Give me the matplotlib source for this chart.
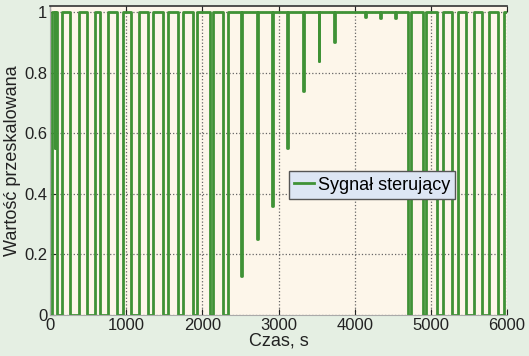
import matplotlib.pyplot as plt
import numpy as np

plt.rcParams['font.family'] = ['Liberation Sans', 'DejaVu Sans']

# chwile przełączeń sygnału (s), sygnał startuje od 0 i zmienia stan na każdej krawędzi
krawedzie = [22, 92, 155, 263, 382, 487, 592, 658, 763, 882, 961, 1066, 1171,
             1289, 1355, 1487, 1553, 1684, 1750, 1882, 1934, 2105, 2145, 2276,
             2342, 4697, 4737, 4895, 4934, 5079, 5158, 5276, 5355, 5461, 5566,
             5671, 5763, 5882, 5961]
# krótkie zapady sygnału w stanie wysokim: (czas, wartość minimalna)
zapady_t = [60, 2509, 2719, 2917, 3118, 3322, 3526, 3730, 4132, 4329, 4535]
zapady_v = [0.55, 0.13, 0.25, 0.36, 0.55, 0.74, 0.84, 0.90, 0.985, 0.98, 0.98]
t_koniec = 6000

punkty = [(0, 0)]
stan = 0
for e in krawedzie:
    punkty.append((e, stan))
    punkty.append((e, 1 - stan))
    stan = 1 - stan
punkty.append((t_koniec, stan))
for tz, vz in zip(zapady_t, zapady_v):
    punkty += [(tz, 1), (tz, vz), (tz + 12, vz), (tz + 12, 1)]
punkty = sorted(punkty, key=lambda p: p[0])
t = np.array([p[0] for p in punkty])
y = np.array([p[1] for p in punkty])

fig = plt.figure(figsize=(5.29, 3.56), dpi=100, facecolor='#e5efe3')
ax = fig.add_axes([50/529, 1-315/356, 457/529, 309/356])
ax.set_facecolor('#fdf6ea')

ax.plot(t, y, color='#3f9236', lw=2, label='Sygnał sterujący')

ax.set_xlim(0, 6000)
ax.set_ylim(0, 1.02)
ax.set_xticks([0, 1000, 2000, 3000, 4000, 5000, 6000])
ax.set_yticks([0, 0.2, 0.4, 0.6, 0.8, 1])
ax.set_yticklabels(['0', '0.2', '0.4', '0.6', '0.8', '1'])
ax.tick_params(direction='in', top=True, length=4, labelsize=12, pad=2, colors='#222')
ax.grid(True, linestyle=':', color='#666', lw=0.9)

ax.spines['right'].set_visible(False)
ax.spines['top'].set_color('#333')
ax.spines['top'].set_linewidth(1.2)
ax.spines['left'].set_color('#aaa')
ax.spines['bottom'].set_color('#aaa')

ax.set_xlabel('Czas, s', fontsize=13, labelpad=0, color='#222')
ax.set_ylabel('Wartość przeskalowana', fontsize=13, labelpad=2, color='#222')

leg = ax.legend(loc='center', bbox_to_anchor=(0.705, 0.42), fontsize=13,
                handlelength=1.1, handletextpad=0.2, borderpad=0.3,
                fancybox=False, framealpha=1)
leg.get_frame().set_facecolor('#dde6f4')
leg.get_frame().set_edgecolor('#555')

plt.savefig('out.png', dpi=100, facecolor=fig.get_facecolor())
